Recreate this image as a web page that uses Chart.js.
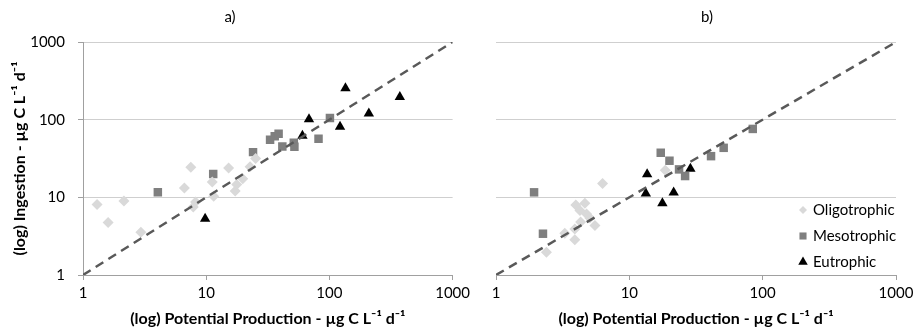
<!DOCTYPE html>
<html>
<head>
<meta charset="utf-8">
<script src="https://cdn.jsdelivr.net/npm/chart.js@4.4.0/dist/chart.umd.min.js"></script>
<style>
html, body { margin: 0; padding: 0; background: #fff; }
body { width: 914px; height: 328px; overflow: hidden; position: relative; }
#chartA { position: absolute; left: -14px; top: 0; }
#chartB { position: absolute; left: 480px; top: 0; }
</style>
</head>
<body>
<canvas id="chartA" width="488" height="328"></canvas>
<canvas id="chartB" width="454" height="328"></canvas>
<script>
// ticks and labels
const xTickVals = [1, 10, 100, 1000];
const yTickVals = [1, 10, 100, 1000];
const seriesNames = ['Oligotrophic', 'Mesotrophic', 'Eutrophic'];
const oneToOne = [1, 1000];

// panel a)
const aOligoX = [1.3, 1.6, 2.15, 2.95, 6.65, 7.5, 7.85, 8.2, 11.2, 11.5, 15.2, 17.2, 17.7, 19.8, 22.7, 25.2];
const aOligoY = [8.1, 4.75, 9.0, 3.55, 13.2, 24.4, 7.5, 8.7, 15.8, 10.3, 23.9, 12.1, 14.6, 17.4, 24.7, 31.6];
const aMesoX = [4.05, 11.4, 24, 33, 36, 38.7, 41.5, 51.4, 52, 81.6, 101];
const aMesoY = [11.6, 20, 38.2, 55, 61, 66, 45.2, 50.4, 44.8, 56.8, 105];
const aEuX = [9.8, 60.4, 68.3, 122, 135, 209, 373];
const aEuY = [5.3, 62, 101, 81, 254, 120, 196];

// panel b)
const bOligoX = [2.39, 3.28, 3.9, 3.9, 4.31, 3.97, 4.64, 4.26, 4.78, 5.06, 5.52, 6.3, 18.6];
const bOligoY = [1.97, 3.45, 2.85, 3.92, 4.8, 7.98, 8.4, 6.75, 6.12, 5.4, 4.35, 15.1, 22.3];
const bMesoX = [1.93, 2.25, 17.2, 20.0, 23.6, 26.2, 41, 51, 84.3];
const bMesoY = [11.6, 3.4, 37.5, 29.6, 22.9, 18.8, 33.9, 43.4, 76];
const bEuX = [13.6, 13.3, 17.7, 21.5, 28.7];
const bEuY = [19.8, 11.2, 8.4, 11.5, 23.4];

const styles = [
    { color: '#d9d9d9', shape: 'rectRot', r: 5.5, lr: 4 },
    { color: '#7f7f7f', shape: 'rect', r: 6, lr: 5 },
    { color: '#000000', shape: 'triangle', r: 6, lr: 5.5 }
];
const axisGrey = '#a0a0a0';
const gridGrey = '#cfcfcf';

Chart.defaults.font.family = 'Lato, "Open Sans", sans-serif';
Chart.defaults.font.size = 15;
Chart.defaults.color = '#000';
Chart.defaults.animation = false;

const pts = (xs, ys) => xs.map((x, i) => ({ x: x, y: ys[i] }));

const panelTitle = {
    id: 'panelTitle',
    afterDraw(chart, args, opts) {
        const ctx = chart.ctx;
        ctx.save();
        ctx.font = '15px Lato';
        ctx.fillStyle = '#000';
        ctx.textAlign = 'center';
        ctx.textBaseline = 'middle';
        ctx.fillText(opts.text, opts.x, opts.y);
        ctx.restore();
    }
};

const legendInside = {
    id: 'legendInside',
    afterDraw(chart, args, opts) {
        if (!opts.show) return;
        const { ctx, chartArea } = chart;
        ctx.save();
        ctx.font = '15px Lato';
        ctx.textBaseline = 'middle';
        ctx.textAlign = 'left';
        seriesNames.forEach((name, i) => {
            const y = chartArea.bottom - 65 + i * 26;
            const x = chartArea.right - 93;
            ctx.fillStyle = styles[i].color;
            Chart.helpers.drawPoint(ctx, { pointStyle: styles[i].shape, radius: styles[i].lr, borderWidth: 0, rotation: 0 }, x, y);
            ctx.fillStyle = '#000';
            ctx.fillText(name, x + 10, y);
        });
        ctx.restore();
    }
};

function makePanel(id, title, titleX, groups, showY, showLegend, padRight) {
    const datasets = [{
        type: 'line',
        label: '1:1',
        data: pts(oneToOne, oneToOne),
        borderColor: '#595959',
        borderWidth: 2.5,
        borderDash: [9, 6],
        pointRadius: 0,
        fill: false
    }];
    groups.forEach((g, i) => {
        datasets.push({
            label: seriesNames[i],
            data: pts(g[0], g[1]),
            backgroundColor: styles[i].color,
            borderColor: styles[i].color,
            borderWidth: 0,
            pointStyle: styles[i].shape,
            pointRadius: styles[i].r
        });
    });

    new Chart(document.getElementById(id), {
        type: 'scatter',
        data: { datasets: datasets },
        plugins: [panelTitle, legendInside],
        options: {
            responsive: false,
            layout: { padding: { left: 0, right: padRight, top: 42, bottom: 0 } },
            plugins: {
                legend: { display: false },
                tooltip: { enabled: false },
                panelTitle: { text: title, x: titleX, y: 17 },
                legendInside: { show: showLegend }
            },
            scales: {
                x: {
                    type: 'logarithmic',
                    min: 1, max: 1000,
                    afterBuildTicks: s => { s.ticks = xTickVals.map(v => ({ value: v })); },
                    afterFit: s => { s.height = 53; },
                    ticks: { callback: v => String(v), padding: 4, maxRotation: 0, autoSkip: false },
                    grid: { drawOnChartArea: false, drawTicks: true, tickLength: 5, color: axisGrey },
                    border: { color: axisGrey },
                    title: {
                        display: true,
                        text: '(log) Potential Production - µg C L⁻¹ d⁻¹',
                        font: { size: 16, weight: 'bold' },
                        padding: { top: 0, bottom: 0 }
                    }
                },
                y: {
                    type: 'logarithmic',
                    min: 1, max: 1000,
                    afterBuildTicks: s => { s.ticks = yTickVals.map(v => ({ value: v })); },
                    afterFit: s => { s.width = showY ? 97 : 16; },
                    ticks: { display: showY, callback: v => String(v), padding: 13 },
                    grid: { color: gridGrey, tickColor: axisGrey, drawTicks: showY, tickLength: 5 },
                    border: { display: showY, color: axisGrey },
                    title: {
                        display: showY,
                        text: '(log) Ingestion - µg C L⁻¹ d⁻¹',
                        font: { size: 16, weight: 'bold' },
                        padding: { top: 24, bottom: 0 }
                    }
                }
            }
        }
    });
}

makePanel('chartA', 'a)', 244, [[aOligoX, aOligoY], [aMesoX, aMesoY], [aEuX, aEuY]], true, false, 17);
makePanel('chartB', 'b)', 227, [[bOligoX, bOligoY], [bMesoX, bMesoY], [bEuX, bEuY]], false, true, 38);
</script>
</body>
</html>
